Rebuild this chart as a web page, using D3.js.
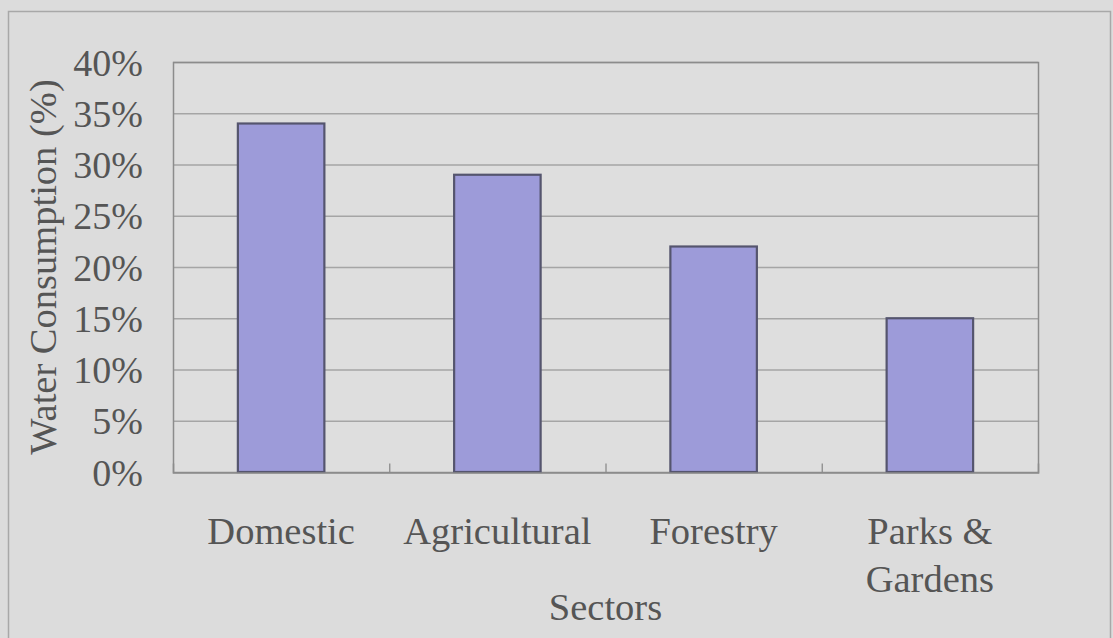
<!DOCTYPE html>
<html>
<head>
<meta charset="utf-8">
<script src="https://cdn.jsdelivr.net/npm/d3@7"></script>
<style>
  html, body { margin: 0; padding: 0; background: #dcdcdc; }
  svg { display: block; }
  text { font-family: "Liberation Serif", "Times New Roman", serif; fill: #555; }
</style>
</head>
<body>
<svg id="chart" width="1113" height="638"></svg>
<script>
// Water consumption share by sector
const sectors = ["Domestic", "Agricultural", "Forestry", "Parks & Gardens"];
const consumption = [34, 29, 22, 15];
const yTicks = [0, 5, 10, 15, 20, 25, 30, 35, 40];

const svg = d3.select("#chart");
const plot = { left: 173, right: 1038, top: 62, bottom: 472 };

// outer chart frame
svg.append("rect")
  .attr("x", 8.5).attr("y", 11.5)
  .attr("width", 1102).attr("height", 640)
  .attr("fill", "#dcdcdc").attr("stroke", "#a8a8a8").attr("stroke-width", 1.5);

const x = d3.scaleBand().domain(sectors).range([plot.left, plot.right]).paddingInner(0.6).paddingOuter(0.3);
const xb = d3.scaleBand().domain(sectors).range([plot.left, plot.right]);
const y = d3.scaleLinear().domain([0, 40]).range([plot.bottom, plot.top]);

// plot area
svg.append("rect")
  .attr("x", plot.left).attr("y", plot.top)
  .attr("width", plot.right - plot.left).attr("height", plot.bottom - plot.top)
  .attr("fill", "#dedede");

// horizontal gridlines
svg.append("g")
  .selectAll("line").data(yTicks.filter(d => d > 0)).join("line")
  .attr("x1", plot.left).attr("x2", plot.right)
  .attr("y1", d => y(d) + 0.5).attr("y2", d => y(d) + 0.5)
  .attr("stroke", "#a5a5a5").attr("stroke-width", 1.3);

// plot border
svg.append("rect")
  .attr("x", plot.left + 0.5).attr("y", plot.top + 0.5)
  .attr("width", plot.right - plot.left).attr("height", plot.bottom - plot.top)
  .attr("fill", "none").attr("stroke", "#8c8c8c").attr("stroke-width", 1.5);

// bars
svg.append("g")
  .selectAll("rect").data(sectors).join("rect")
  .attr("x", d => x(d))
  .attr("y", (d, i) => y(consumption[i]))
  .attr("width", x.bandwidth())
  .attr("height", (d, i) => y(0) - y(consumption[i]))
  .attr("fill", "#9d9bd9")
  .attr("stroke", "#55556e").attr("stroke-width", 2.2);

// x axis baseline with inner tick marks between categories
const xAxis = d3.axisBottom(d3.scaleLinear().domain([0, 4]).range([plot.left, plot.right]))
  .tickValues([1, 2, 3]).tickSize(-9).tickFormat("");
const gx = svg.append("g").attr("transform", `translate(0,${plot.bottom + 0.5})`).call(xAxis);
gx.select(".domain").attr("stroke", "#8c8c8c").attr("stroke-width", 1.5);
gx.selectAll(".tick line").attr("stroke", "#8c8c8c").attr("stroke-width", 1.3);

// y axis labels
const yAxis = d3.axisLeft(y).tickValues(yTicks).tickSize(0).tickPadding(30).tickFormat(d => d + "%");
const gy = svg.append("g").attr("transform", `translate(${plot.left},1)`).call(yAxis);
gy.select(".domain").remove();
gy.selectAll(".tick text")
  .attr("font-size", 38).attr("fill", "#555")
  .attr("font-family", "Liberation Serif, serif");

// category labels (wrapped where needed)
const labelLines = { "Parks & Gardens": ["Parks &", "Gardens"] };
const cat = svg.append("g");
sectors.forEach(s => {
  const lines = labelLines[s] || [s];
  const t = cat.append("text")
    .attr("text-anchor", "middle")
    .attr("font-size", 38.5)
    .attr("x", xb(s) + xb.bandwidth() / 2)
    .attr("y", 544);
  lines.forEach((ln, i) => {
    t.append("tspan")
      .attr("x", xb(s) + xb.bandwidth() / 2)
      .attr("dy", i === 0 ? 0 : 48)
      .text(ln);
  });
});

// axis titles
svg.append("text")
  .attr("text-anchor", "middle")
  .attr("font-size", 38.5)
  .attr("x", (plot.left + plot.right) / 2)
  .attr("y", 620)
  .text("Sectors");

svg.append("text")
  .attr("text-anchor", "middle")
  .attr("font-size", 38.5)
  .attr("transform", `translate(56,${(plot.top + plot.bottom) / 2}) rotate(-90)`)
  .text("Water Consumption (%)");
</script>
</body>
</html>
